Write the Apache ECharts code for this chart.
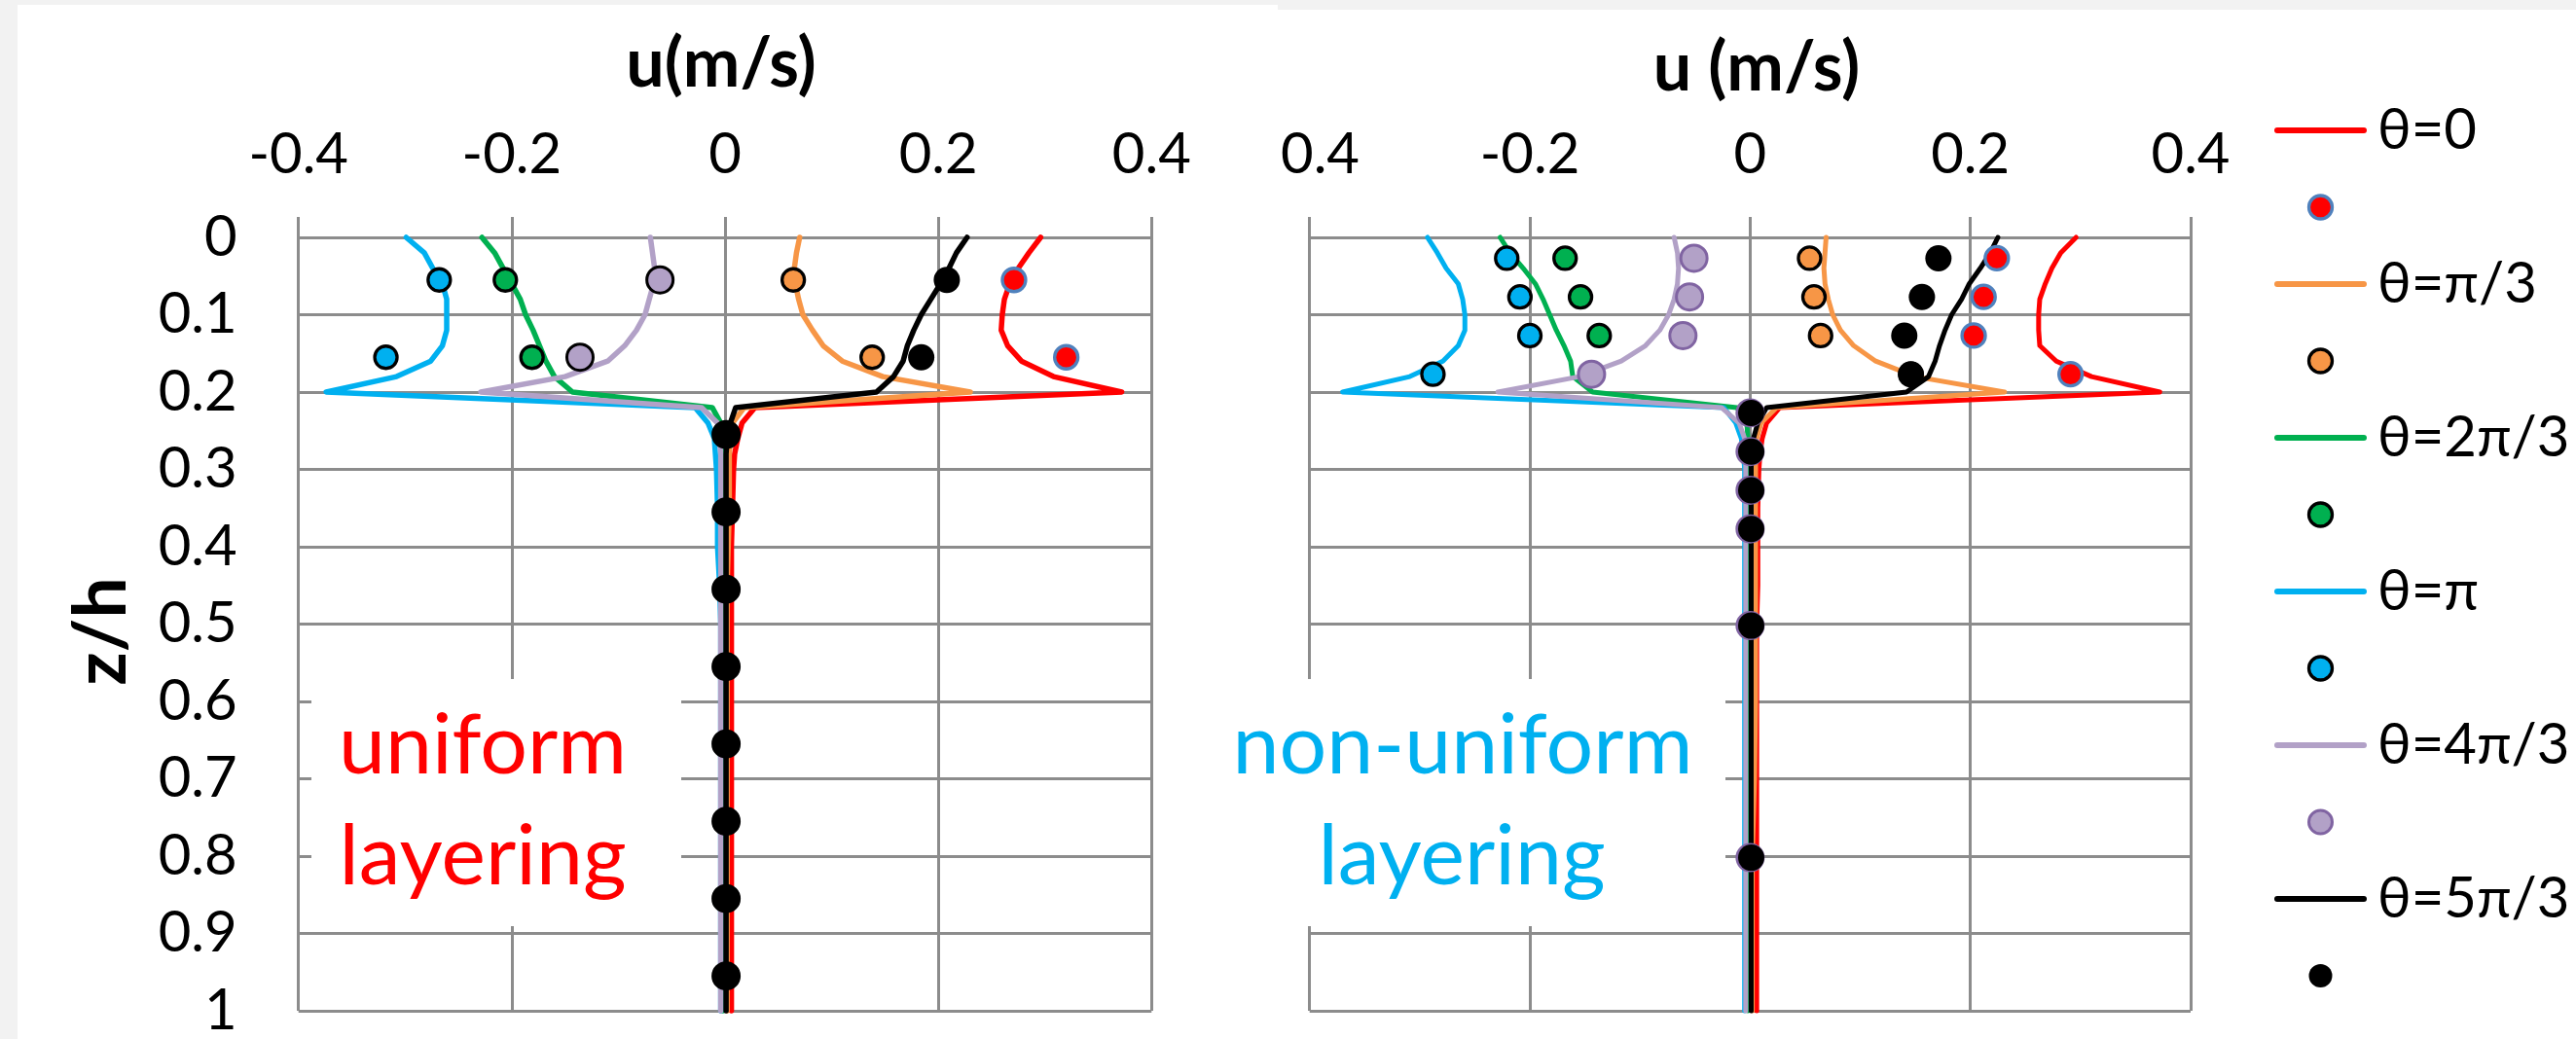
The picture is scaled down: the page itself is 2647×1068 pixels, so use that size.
<!DOCTYPE html>
<html><head><meta charset="utf-8">
<script src="https://cdn.jsdelivr.net/npm/echarts@6/dist/echarts.min.js"></script>
<style>html,body{margin:0;padding:0;background:#fff}#c{width:2647px;height:1068px}</style>
</head><body><div id="c"></div>
<script>
// ---------- data ----------
const xTicks = [-0.4, -0.2, 0, 0.2, 0.4];
const names = ['θ=0', 'θ=π/3', 'θ=2π/3', 'θ=π', 'θ=4π/3', 'θ=5π/3'];

// depth levels (z/h) of the simulated profiles (lines)
const zLine = [0,0.02,0.04,0.06,0.08,0.10,0.12,0.14,0.16,0.18,0.20,0.22,0.24,0.26,0.28,0.30,0.35,0.40,0.45,0.50,0.60,0.70,0.80,0.90,1.00];

// uniform layering (left panel) – lines
const uRedL    = [0.296,0.285,0.275,0.267,0.262,0.260,0.259,0.265,0.278,0.308,0.372,0.028,0.016,0.012,0.009,0.008,0.007,0.006,0.006,0.006,0.006,0.006,0.006,0.006,0.006];
const uOrangeL = [0.070,0.067,0.065,0.066,0.069,0.073,0.082,0.092,0.110,0.148,0.230,0.018,0.007,0.005,0.004,0.004,0.004,0.003,0.002,0.002,0.002,0.002,0.002,0.002,0.002];
const uGreenL  = [-0.228,-0.216,-0.208,-0.200,-0.192,-0.187,-0.180,-0.174,-0.168,-0.160,-0.143,-0.012,-0.004,-0.003,-0.002,-0.002,-0.002,-0.002,-0.002,-0.002,-0.002,-0.002,-0.002,-0.002,-0.002];
const uBlueL   = [-0.299,-0.282,-0.274,-0.265,-0.261,-0.261,-0.261,-0.265,-0.276,-0.308,-0.374,-0.028,-0.016,-0.010,-0.009,-0.008,-0.007,-0.007,-0.005,-0.004,-0.004,-0.004,-0.004,-0.004,-0.004];
const uPurpleL = [-0.070,-0.068,-0.066,-0.067,-0.071,-0.075,-0.083,-0.094,-0.110,-0.150,-0.229,-0.022,-0.007,-0.005,-0.004,-0.004,-0.004,-0.004,-0.004,-0.004,-0.004,-0.004,-0.004,-0.004,-0.004];
const uBlackL  = [0.227,0.217,0.210,0.202,0.193,0.184,0.177,0.171,0.167,0.158,0.142,0.010,0.005,0.002,0.001,0.001,0.001,0.001,0.001,0.001,0.001,0.001,0.001,0.001,0.001];

// non-uniform layering (right panel) – lines
const uRedR    = [0.296,0.282,0.274,0.268,0.263,0.262,0.262,0.263,0.278,0.310,0.372,0.027,0.015,0.011,0.009,0.008,0.007,0.007,0.007,0.006,0.006,0.006,0.006,0.006,0.006];
const uOrangeR = [0.069,0.068,0.067,0.068,0.071,0.075,0.082,0.094,0.114,0.150,0.231,0.024,0.010,0.006,0.005,0.005,0.005,0.005,0.005,0.005,0.005,0.004,0.002,0.002,0.002];
const uGreenR  = [-0.227,-0.218,-0.206,-0.195,-0.188,-0.182,-0.176,-0.169,-0.163,-0.161,-0.143,-0.012,-0.003,-0.002,-0.002,-0.002,-0.002,-0.002,-0.002,-0.002,-0.002,-0.002,-0.002,-0.002,-0.002];
const uBlueR   = [-0.293,-0.284,-0.276,-0.265,-0.261,-0.259,-0.259,-0.265,-0.279,-0.309,-0.370,-0.024,-0.013,-0.008,-0.006,-0.005,-0.005,-0.005,-0.005,-0.005,-0.005,-0.005,-0.005,-0.005,-0.005];
const uPurpleR = [-0.069,-0.066,-0.065,-0.066,-0.069,-0.074,-0.082,-0.095,-0.117,-0.155,-0.229,-0.026,-0.010,-0.005,-0.004,-0.004,-0.004,-0.004,-0.004,-0.004,-0.004,-0.004,-0.004,-0.004,-0.004];
const uBlackR  = [0.225,0.218,0.209,0.199,0.192,0.183,0.177,0.172,0.168,0.162,0.142,0.015,0.007,0.003,0.001,0.001,0.001,0.001,0.001,0.001,0.001,0.001,0.001,0.001,0.001];

// measured points, left panel
const zPtsL      = [0.055, 0.155];
const zPtsLDeep  = [0.055, 0.155, 0.255, 0.355, 0.455, 0.555, 0.655, 0.755, 0.855, 0.955];
const pRedL    = [0.271, 0.320];
const pOrangeL = [0.064, 0.138];
const pGreenL  = [-0.206, -0.181];
const pBlueL   = [-0.268, -0.318];
const pPurpleL = [-0.061, -0.136, 0.001, 0.001, 0.001, 0.001, 0.001, 0.001, 0.001, 0.001];
const pBlackL  = [0.208, 0.184, 0.001, 0.001, 0.001, 0.001, 0.001, 0.001, 0.001, 0.001];

// measured points, right panel
const zPtsR      = [0.027, 0.077, 0.127, 0.177];
const zPtsRDeep  = [0.027, 0.077, 0.127, 0.177, 0.227, 0.277, 0.327, 0.377, 0.502, 0.802];
const pRedR    = [0.224, 0.212, 0.203, 0.291];
const pOrangeR = [0.054, 0.058, 0.064, 0.146];
const pGreenR  = [-0.168, -0.154, -0.137, -0.144];
const pBlueR   = [-0.221, -0.209, -0.200, -0.288];
const pPurpleR = [-0.051, -0.055, -0.061, -0.144, 0.0, 0.0, 0.0, 0.0, 0.0, 0.0];
const pBlackR  = [0.171, 0.156, 0.140, 0.146, 0.001, 0.001, 0.001, 0.001, 0.001, 0.001];

// ---------- styling ----------
const FONT = "Lato, 'Open Sans', sans-serif";
const GRID_C = '#8c8c8c';
const colors = ['#FF0000', '#F79646', '#00B050', '#00B0F0', '#B2A1C7', '#000000'];

const linesL = [uRedL, uOrangeL, uGreenL, uBlueL, uPurpleL, uBlackL];
const linesR = [uRedR, uOrangeR, uGreenR, uBlueR, uPurpleR, uBlackR];
const ptsL = [[zPtsL, pRedL], [zPtsL, pOrangeL], [zPtsL, pGreenL], [zPtsL, pBlueL], [zPtsLDeep, pPurpleL], [zPtsLDeep, pBlackL]];
const ptsR = [[zPtsR, pRedR], [zPtsR, pOrangeR], [zPtsR, pGreenR], [zPtsR, pBlueR], [zPtsRDeep, pPurpleR], [zPtsRDeep, pBlackR]];

function markerStyle(i, panel) {
  const c = colors[i];
  if (i === 0) return { size: 24, st: { color: c, borderColor: '#4F81BD', borderWidth: 3.3, opacity: 1 } };
  if (i === 4) return { size: 27, st: { color: c, borderColor: panel === 'R' ? '#8064A2' : '#000', borderWidth: 3, opacity: 1 } };
  if (i === 5) return { size: 27, st: { color: '#000', borderWidth: 0, opacity: 1 } };
  return { size: 23, st: { color: c, borderColor: '#000', borderWidth: 3.3, opacity: 1 } };
}

const series = [];
function addPanel(panel, gi, lines, pts, lw) {
  for (let i = 0; i < 6; i++) {
    const nm = panel === 'R' ? names[i] : 'L ' + names[i];
    series.push({
      type: 'line', name: nm, xAxisIndex: gi, yAxisIndex: gi, z: 2,
      data: zLine.map((z, k) => [lines[i][k], z]),
      symbol: 'none', showSymbol: false, clip: false,
      lineStyle: { color: colors[i], width: lw, cap: 'round', join: 'round' },
      itemStyle: { color: colors[i] }
    });
    const ms = markerStyle(i, panel);
    series.push({
      type: 'scatter', name: nm + ' pts', xAxisIndex: gi, yAxisIndex: gi, z: 2,
      data: pts[i][0].map((z, k) => [pts[i][1][k], z]),
      symbol: 'circle', symbolSize: ms.size, itemStyle: ms.st
    });
  }
}
addPanel('L', 0, linesL, ptsL, 5.5);
addPanel('R', 1, linesR, ptsR, 5);

const LINE_ICON = 'path://M3,0H92A3,3 0 0 1 92,6H3A3,3 0 0 1 3,0Z';
const legendData = [];
for (let i = 0; i < 6; i++) {
  legendData.push({ name: names[i], icon: LINE_ICON, itemStyle: { color: colors[i], borderWidth: 0 } });
  const ms = markerStyle(i, 'R');
  legendData.push({ name: names[i] + ' pts', icon: 'circle', itemStyle: ms.st });
}

function xAxisCfg(gi) {
  return {
    type: 'value', gridIndex: gi, position: 'top', min: xTicks[0], max: xTicks[xTicks.length - 1], interval: 0.2,
    axisLine: { show: false },
    axisTick: { show: true, inside: false, length: 21, lineStyle: { color: GRID_C, width: 3 } },
    splitLine: { show: true, lineStyle: { color: GRID_C, width: 3 } },
    axisLabel: { margin: 56, fontSize: 58, fontFamily: FONT, color: '#000',
      formatter: v => { const r = Math.round(v * 10) / 10; return r === 0 ? '0' : String(r); } }
  };
}
function yAxisCfg(gi, showLabels) {
  return {
    type: 'value', gridIndex: gi, inverse: true, min: 0, max: 1, interval: 0.1,
    axisLine: { show: false },
    axisTick: { show: showLabels, inside: false, length: 21, lineStyle: { color: GRID_C, width: 3 } },
    splitLine: { show: true, lineStyle: { color: GRID_C, width: 3 } },
    axisLabel: { show: showLabels, margin: 63, fontSize: 58, fontFamily: FONT, color: '#000',
      formatter: v => { const r = Math.round(v * 10) / 10; return String(r); } }
  };
}

function txt(text, x, y, size, color, bold, extra) {
  return Object.assign({ type: 'text', x: x, y: y, z: 100,
    style: { text: text, fill: color, font: (bold ? 'bold ' : '') + size + 'px ' + FONT, textAlign: 'center', textVerticalAlign: 'middle' } }, extra || {});
}

const option = {
  animation: false,
  backgroundColor: '#ffffff',
  grid: [
    { left: 306.7, top: 244, width: 876.6, height: 800 },
    { left: 1345.7, top: 244, width: 905.3, height: 795 }
  ],
  xAxis: [xAxisCfg(0), xAxisCfg(1)],
  yAxis: [yAxisCfg(0, true), yAxisCfg(1, false)],
  legend: {
    orient: 'vertical', left: 2337, top: 104, padding: 0,
    itemWidth: 95, itemHeight: 24, itemGap: 19, selectedMode: false, symbolKeepAspect: true,
    data: legendData,
    formatter: n => n.endsWith(' pts') ? '\u00a0' : n,
    textStyle: { fontSize: 58, fontFamily: FONT, color: '#000', lineHeight: 60, padding: [0, 0, 0, 6] }
  },
  graphic: [
    { type: 'rect', z: 100, shape: { x: 0, y: 0, width: 18, height: 1068 }, style: { fill: '#f2f2f2' } },
    { type: 'rect', z: 100, shape: { x: 0, y: 0, width: 2647, height: 5 }, style: { fill: '#f2f2f2' } },
    { type: 'rect', z: 100, shape: { x: 1313, y: 0, width: 1334, height: 10 }, style: { fill: '#f2f2f2' } },
    // right panel clips the minus sign of its first tick label
    { type: 'rect', z: 100, shape: { x: 1280, y: 120, width: 34, height: 80 }, style: { fill: '#ffffff' } },
    // text boxes
    { type: 'rect', z: 100, shape: { x: 320, y: 698, width: 380, height: 254 }, style: { fill: '#ffffff' } },
    { type: 'rect', z: 100, shape: { x: 1240, y: 698, width: 533, height: 254 }, style: { fill: '#ffffff' } },
    txt('uniform', 496, 767, 86, '#FF0000', false),
    txt('layering', 496, 881, 86, '#FF0000', false),
    txt('non-uniform', 1503, 767, 86, '#00B0F0', false),
    txt('layering', 1502, 881, 86, '#00B0F0', false),
    // axis titles
    txt('u(m/s)', 741, 66, 70, '#000', true),
    txt('u (m/s)', 1805, 70, 70, '#000', true),
    txt('z/h', 105, 649, 75, '#000', true, { rotation: Math.PI / 2 })
  ],
  series: series
};

const chart = echarts.init(document.getElementById('c'), null, { renderer: 'canvas' });
chart.setOption(option);
</script>
</body></html>
